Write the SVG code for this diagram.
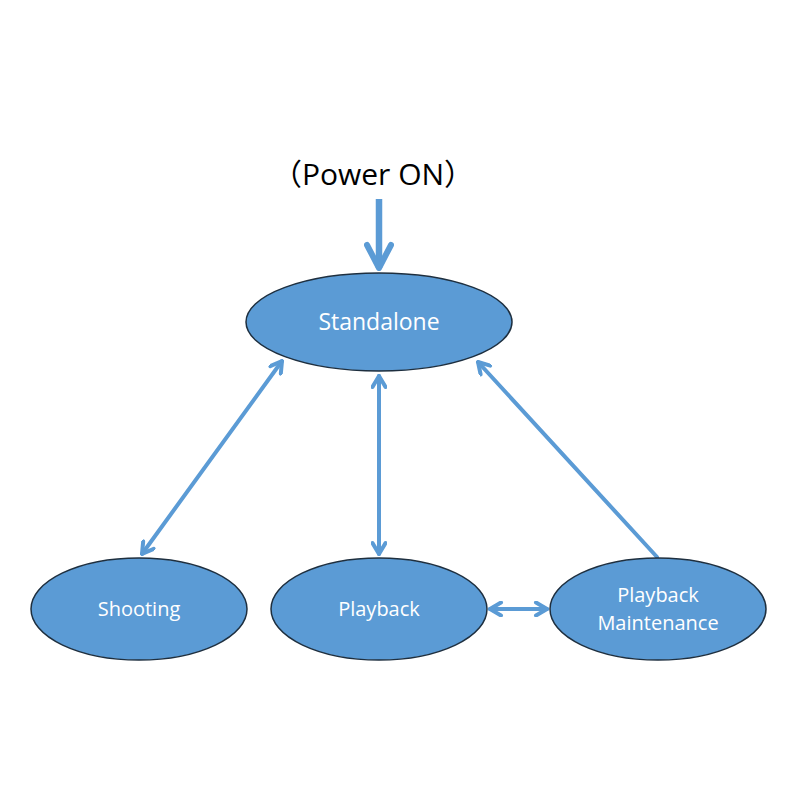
<svg xmlns="http://www.w3.org/2000/svg" width="795" height="795" viewBox="0 0 795 795">
<style>
.node{fill:#5B9BD5;stroke:#1E2F3F;stroke-width:1.5}
.lbl{fill:#FFFFFF;font-family:"Open Sans","Noto Sans","Liberation Sans",sans-serif;text-anchor:middle}
.con{stroke:#5B9BD5;stroke-width:4;fill:none;stroke-linecap:round}
</style>
<defs>
<marker id="ah" viewBox="0 0 16 16" refX="14" refY="8" markerWidth="16" markerHeight="16" markerUnits="userSpaceOnUse" orient="auto-start-reverse">
<path d="M3,1.5 L14,8 L3,14.5" fill="none" stroke="#5B9BD5" stroke-width="4" stroke-linecap="round" stroke-linejoin="round"/>
</marker>
<marker id="ahb" viewBox="0 0 30 30" refX="27" refY="15" markerWidth="30" markerHeight="30" markerUnits="userSpaceOnUse" orient="auto">
<path d="M4,3 L27,15 L4,27" fill="none" stroke="#5B9BD5" stroke-width="6" stroke-linecap="round" stroke-linejoin="round"/>
</marker>
</defs>
<text x="373" y="185" font-family="'Open Sans','Noto Sans CJK JP',sans-serif" font-size="30" fill="#000" text-anchor="middle">（Power ON）</text>
<g id="connectors">
<line class="con" x1="379" y1="199" x2="379" y2="268" style="stroke-width:6.5;stroke-linecap:butt" marker-end="url(#ahb)"/>
<line class="con" x1="282" y1="361" x2="142" y2="554" marker-start="url(#ah)" marker-end="url(#ah)"/>
<line class="con" x1="379" y1="376" x2="379" y2="554" marker-start="url(#ah)" marker-end="url(#ah)"/>
<line class="con" x1="657" y1="557" x2="478" y2="362" marker-end="url(#ah)"/>
<line class="con" x1="490" y1="609" x2="547" y2="609" marker-start="url(#ah)" marker-end="url(#ah)"/>
</g>
<g id="standalone">
<ellipse class="node" cx="379" cy="322" rx="133" ry="49"/>
<text class="lbl" x="379" y="330" font-size="23">Standalone</text>
</g>
<g id="shooting">
<ellipse class="node" cx="139" cy="609" rx="108" ry="51"/>
<text class="lbl" x="139" y="616" font-size="20">Shooting</text>
</g>
<g id="playback">
<ellipse class="node" cx="379" cy="609" rx="108" ry="51"/>
<text class="lbl" x="379" y="616" font-size="20">Playback</text>
</g>
<g id="playback-maintenance">
<ellipse class="node" cx="658" cy="609" rx="108" ry="51"/>
<text class="lbl" x="658" y="602" font-size="20">Playback</text>
<text class="lbl" x="658" y="630" font-size="20">Maintenance</text>
</g>
</svg>
